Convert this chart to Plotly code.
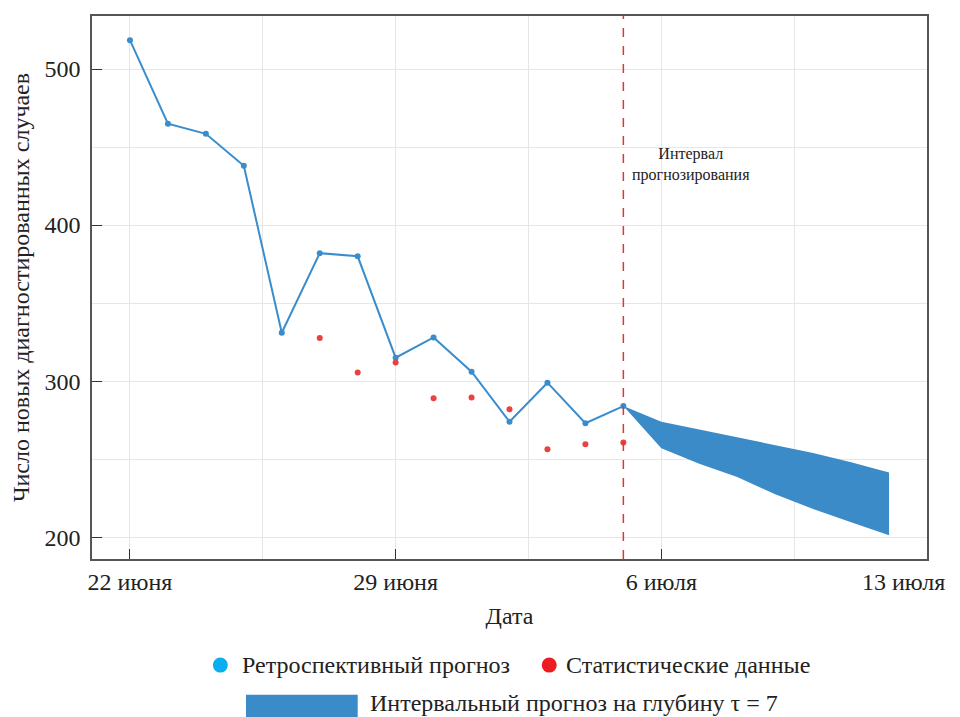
import plotly.graph_objects as go

# ---- data ----
retro_dates = ["2020-06-22", "2020-06-23", "2020-06-24", "2020-06-25", "2020-06-26",
               "2020-06-27", "2020-06-28", "2020-06-29", "2020-06-30", "2020-07-01",
               "2020-07-02", "2020-07-03", "2020-07-04", "2020-07-05"]
retro_values = [518.5, 465, 458.5, 438, 331, 382, 380, 315, 328, 306, 274, 299, 273, 284]

stat_dates = ["2020-06-27", "2020-06-28", "2020-06-29", "2020-06-30", "2020-07-01",
              "2020-07-02", "2020-07-03", "2020-07-04", "2020-07-05"]
stat_values = [327.7, 305.5, 312, 289, 289.5, 282, 256.3, 259.5, 260.6]

band_dates = ["2020-07-05", "2020-07-06", "2020-07-07", "2020-07-08", "2020-07-09",
              "2020-07-10", "2020-07-11", "2020-07-12"]
band_upper = [284, 274, 269, 264, 259, 254, 248, 241.5]
band_lower = [284, 257, 247, 238.5, 227.5, 218, 209.5, 201.3]

forecast_start = "2020-07-05"

x_tickvals = ["2020-06-22", "2020-06-29", "2020-07-06", "2020-07-13"]
x_ticktext = ["22 июня", "29 июня", "6 июля", ""]
last_tick_label = "13 июля"

FONT = "Liberation Serif, Times New Roman, serif"
TXT = "#222222"
BLUE = "#3A8DCC"
BAND = "#3A8BC8"
RED = "#E8433F"

fig = go.Figure()

fig.add_trace(go.Scatter(x=band_dates, y=band_upper, mode="lines",
                         line=dict(width=0, color=BAND), showlegend=False,
                         hoverinfo="skip"))
fig.add_trace(go.Scatter(x=band_dates, y=band_lower, mode="lines",
                         line=dict(width=0, color=BAND), fill="tonexty",
                         fillcolor=BAND, name="Интервальный прогноз на глубину τ = 7",
                         showlegend=False))
fig.add_trace(go.Scatter(x=retro_dates, y=retro_values, mode="lines+markers",
                         line=dict(color=BLUE, width=2), marker=dict(color=BLUE, size=6),
                         name="Ретроспективный прогноз", showlegend=False))
fig.add_trace(go.Scatter(x=stat_dates, y=stat_values, mode="markers",
                         marker=dict(color=RED, size=6),
                         name="Статистические данные", showlegend=False))

fig.add_shape(type="line", xref="x", yref="paper", x0=forecast_start, x1=forecast_start,
              y0=0, y1=1, line=dict(color="#D93A35", width=1.5, dash="dash"))

fig.add_annotation(x=0.7174, y=0.7266, xref="paper", yref="paper",
                   xanchor="center", yanchor="middle",
                   text="Интервал<br>прогнозирования", showarrow=False, align="center",
                   font=dict(family=FONT, size=16, color=TXT))

# last x tick label (kept inside the page, like in the reference)
fig.add_annotation(x=1.024, y=-0.0422, xref="paper", yref="paper", xanchor="right",
                   yanchor="middle", text=last_tick_label, showarrow=False,
                   font=dict(family=FONT, size=24, color=TXT))

# ---- manual legend ----
LY1 = -0.1954
fig.add_shape(type="circle", xref="paper", yref="paper", xsizemode="pixel", ysizemode="pixel",
              xanchor=0.1537, yanchor=LY1, x0=-7.5, x1=7.5, y0=-7.5, y1=7.5,
              fillcolor="#0DAEEF", line=dict(width=0))
fig.add_annotation(x=0.1775, y=LY1, xref="paper", yref="paper", xanchor="left",
                   yanchor="middle", text="Ретроспективный прогноз", showarrow=False,
                   font=dict(family=FONT, size=24, color=TXT))
fig.add_shape(type="circle", xref="paper", yref="paper", xsizemode="pixel", ysizemode="pixel",
              xanchor=0.5476, yanchor=LY1, x0=-7.5, x1=7.5, y0=-7.5, y1=7.5,
              fillcolor="#EC1C24", line=dict(width=0))
fig.add_annotation(x=0.5655, y=LY1, xref="paper", yref="paper", xanchor="left",
                   yanchor="middle", text="Статистические данные", showarrow=False,
                   font=dict(family=FONT, size=24, color=TXT))
fig.add_shape(type="rect", xref="paper", yref="paper", x0=0.1844, x1=0.3182,
              y0=-0.2501, y1=-0.33, fillcolor=BAND, line=dict(width=0))
fig.add_annotation(x=0.3301, y=-0.266, xref="paper", yref="paper", xanchor="left",
                   yanchor="middle", text="Интервальный прогноз на глубину τ = 7",
                   showarrow=False, font=dict(family=FONT, size=24, color=TXT))

fig.update_layout(
    width=960, height=717,
    margin=dict(l=84, r=41, t=6, b=166),
    plot_bgcolor="white", paper_bgcolor="white",
    font=dict(family=FONT, size=24, color=TXT),
    showlegend=False,
)

fig.update_xaxes(
    type="date", range=["2020-06-21", "2020-07-13"],
    tickmode="array", tickvals=x_tickvals, ticktext=x_ticktext,
    ticks="inside", ticklen=10, tickcolor="#333",
    showgrid=True, gridcolor="#e6e6e6", gridwidth=1,
    minor=dict(tickmode="linear", tick0="2020-06-22", dtick=3.5 * 86400000,
               showgrid=True, gridcolor="#e6e6e6", ticks=""),
    showline=True, linecolor="#555", linewidth=1.5, mirror=True,
    tickfont=dict(family=FONT, size=24, color=TXT),
    title=dict(text="Дата", font=dict(family=FONT, size=24, color=TXT), standoff=14),
    zeroline=False,
)
fig.update_yaxes(
    range=[186, 534], tickmode="linear", tick0=200, dtick=100,
    ticks="inside", ticklen=10, tickcolor="#333",
    showgrid=True, gridcolor="#e6e6e6", gridwidth=1,
    minor=dict(tickmode="linear", tick0=200, dtick=50, showgrid=True,
               gridcolor="#e6e6e6", ticks=""),
    showline=True, linecolor="#555", linewidth=1.5, mirror=True,
    tickfont=dict(family=FONT, size=24, color=TXT),
    ticklabelstandoff=5,
    title=dict(text="Число новых диагностированных случаев",
               font=dict(family=FONT, size=24, color=TXT), standoff=14),
    zeroline=False,
)

fig.write_html("out.html")
